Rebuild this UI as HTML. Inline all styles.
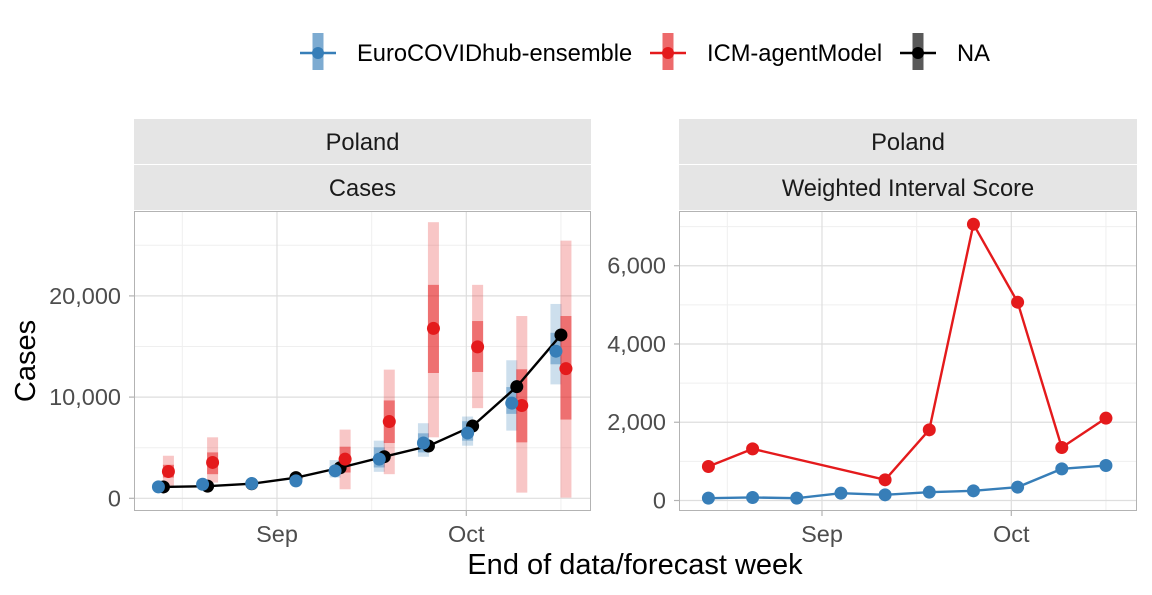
<!DOCTYPE html>
<html><head><meta charset="utf-8">
<style>
html,body{margin:0;padding:0;background:#fff;}
svg{display:block;font-family:"Liberation Sans",sans-serif;}
</style></head>
<body>
<svg id="chart" width="1152" height="595" xmlns="http://www.w3.org/2000/svg"></svg>
<script>
// ---- data ----
const weekDays = [-18, -11, -4, 3, 10, 17, 24, 31, 38, 45]; // days relative to Sep 1
const truthCases = [1120, 1200, 1440, 2040, 3020, 4110, 5170, 7140, 11030, 16140];
const ensMedian = [1126, 1391, 1457, 1722, 2715, 3874, 5464, 6457, 9404, 14536];
const ensLo90 = [900, 1150, 1250, 1400, 2053, 2616, 4106, 5199, 6688, 11257];
const ensHi90 = [1400, 1650, 1700, 2100, 3775, 5695, 7417, 8079, 13641, 19204];
const ensLo50 = [1000, 1300, 1350, 1550, 2400, 3046, 4536, 5695, 8344, 13244];
const ensHi50 = [1250, 1500, 1550, 1900, 3100, 5033, 6423, 7615, 10993, 16356];
const icmWeeks = [0, 1, 4, 5, 6, 7, 8, 9]; // indexes into weekDays
const icmMedian = [2649, 3543, 3874, 7583, 16787, 14966, 9172, 12814];
const icmLo90 = [1060, 1556, 894, 2384, 6026, 8907, 563, 66];
const icmHi90 = [4205, 6026, 6788, 12714, 27283, 21091, 18012, 25462];
const icmLo50 = [2053, 2384, 2549, 5463, 12383, 12483, 5529, 7781];
const icmHi50 = [3311, 4536, 5099, 9668, 21091, 17515, 12748, 18012];
const wisEnsemble = [60, 77, 60, 187, 145, 213, 247, 341, 809, 894];
const wisIcm = [869, 1320, 528, 1806, 7061, 5068, 1354, 2104];
const leftTicks = [0, 10000, 20000];
const leftTickLabels = ["0", "10,000", "20,000"];
const rightTicks = [0, 2000, 4000, 6000];
const rightTickLabels = ["0", "2,000", "4,000", "6,000"];
const xTickDays = [0, 30];
const xTickLabels = ["Sep", "Oct"];

// ---- scaffolding ----
const NS = "http://www.w3.org/2000/svg";
const svg = document.getElementById("chart");
function mk(tag, attrs, parent) {
  const e = document.createElementNS(NS, tag);
  for (const k in attrs) e.setAttribute(k, attrs[k]);
  (parent || svg).appendChild(e);
  return e;
}
const BLUE = "#377eb8", RED = "#e41a1c";
const PY0 = 211, PY1 = 511;
const L = {x0: 134, x1: 591, sep: 277};
const R = {x0: 679, x1: 1137, sep: 822};
const pxDay = 6.31;
const PR = 6.5;
function xL(d) { return L.sep + d * pxDay; }
function xR(d) { return R.sep + d * pxDay; }
function yL(v) { return 498.3 - v * (50.6 / 5000); }
function yR(v) { return 500.5 - v * (39.13 / 1000); }

function panel(P, xf, yf, minorY, majorY, name) {
  const g = mk("g", {});
  
  
  mk("rect", {x: P.x0, y: PY0, width: P.x1 - P.x0, height: PY1 - PY0, fill: "#fff"}, g);
  minorY.forEach(v => mk("line", {x1: P.x0, x2: P.x1, y1: yf(v), y2: yf(v), stroke: "#efefef", "stroke-width": 1}, g));
  [-15, 15, 45].forEach(d => mk("line", {x1: xf(d), x2: xf(d), y1: PY0, y2: PY1, stroke: "#efefef", "stroke-width": 1}, g));
  majorY.forEach(v => mk("line", {x1: P.x0, x2: P.x1, y1: yf(v), y2: yf(v), stroke: "#dedede", "stroke-width": 1.2}, g));
  xTickDays.forEach(d => mk("line", {x1: xf(d), x2: xf(d), y1: PY0, y2: PY1, stroke: "#dedede", "stroke-width": 1.2}, g));
  return g;
}

// ---- left panel ----
const gl = panel(L, xL, yL, [5000, 15000, 25000], leftTicks, "cases-panel");
const BW = 11;
function bar(g, x, lo, hi, color, op, name) {
  const r = mk("rect", {x: x - BW / 2, y: yL(hi), width: BW, height: yL(lo) - yL(hi), fill: color, "fill-opacity": op}, g);
  
  
}
const hasIcm = weekDays.map((_, i) => icmWeeks.indexOf(i) >= 0);
weekDays.forEach((d, i) => {
  const x = xL(d) + (hasIcm[i] ? -5 : 0);
  bar(gl, x, ensLo90[i], ensHi90[i], BLUE, 0.25, "ensemble-interval-90");
  bar(gl, x, ensLo50[i], ensHi50[i], BLUE, 0.45, "ensemble-interval-50");
});
icmWeeks.forEach((wi, j) => {
  const x = xL(weekDays[wi]) + 5;
  bar(gl, x, icmLo90[j], icmHi90[j], RED, 0.25, "icm-interval-90");
  bar(gl, x, icmLo50[j], icmHi50[j], RED, 0.5, "icm-interval-50");
});
const truthPath = mk("polyline", {points: weekDays.map((d, i) => xL(d) + "," + yL(truthCases[i])).join(" "), fill: "none", stroke: "#000", "stroke-width": 2.4}, gl);


weekDays.forEach((d, i) => {
  const c = mk("circle", {cx: xL(d), cy: yL(truthCases[i]), r: PR, fill: "#000"}, gl);
  
  
});
icmWeeks.forEach((wi, j) => {
  const c = mk("circle", {cx: xL(weekDays[wi]) + 5, cy: yL(icmMedian[j]), r: PR, fill: RED}, gl);
  
  
});
weekDays.forEach((d, i) => {
  const c = mk("circle", {cx: xL(d) + (hasIcm[i] ? -5 : 0), cy: yL(ensMedian[i]), r: PR, fill: BLUE}, gl);
  
  
});

// ---- right panel ----
const gr = panel(R, xR, yR, [1000, 3000, 5000, 7000], rightTicks, "wis-panel");
const ensLine = mk("polyline", {points: weekDays.map((d, i) => xR(d) + "," + yR(wisEnsemble[i])).join(" "), fill: "none", stroke: BLUE, "stroke-width": 2.4}, gr);


const icmLine = mk("polyline", {points: icmWeeks.map((wi, j) => xR(weekDays[wi]) + "," + yR(wisIcm[j])).join(" "), fill: "none", stroke: RED, "stroke-width": 2.4}, gr);


weekDays.forEach((d, i) => {
  const c = mk("circle", {cx: xR(d), cy: yR(wisEnsemble[i]), r: PR, fill: BLUE}, gr);
  
  
});
icmWeeks.forEach((wi, j) => {
  const c = mk("circle", {cx: xR(weekDays[wi]), cy: yR(wisIcm[j]), r: PR, fill: RED}, gr);
  
  
});

// ---- borders, strips, axes ----
[L, R].forEach((P, k) => {
  const b = mk("rect", {x: P.x0 + 0.5, y: PY0 + 0.5, width: P.x1 - P.x0 - 1, height: PY1 - PY0 - 1, fill: "none", stroke: "#b3b3b3", "stroke-width": 1});
  
  
  const s1 = mk("rect", {x: P.x0, y: 119, width: P.x1 - P.x0, height: 45, fill: "#e5e5e5"});
  
  
  const s2 = mk("rect", {x: P.x0, y: 165, width: P.x1 - P.x0, height: 45, fill: "#e5e5e5"});
  
  
  const cx = (P.x0 + P.x1) / 2;
  const t1 = mk("text", {x: cx, y: 150, "text-anchor": "middle", "font-size": 23.7, fill: "#1a1a1a"});
  t1.textContent = "Poland";
  
  
  const t2 = mk("text", {x: cx, y: 196, "text-anchor": "middle", "font-size": 23.7, fill: "#1a1a1a"});
  t2.textContent = k === 0 ? "Cases" : "Weighted Interval Score";
  
  
  const xf = k === 0 ? xL : xR;
  xTickDays.forEach((d, i) => {
    mk("line", {x1: xf(d), x2: xf(d), y1: PY1, y2: PY1 + 5, stroke: "#b3b3b3", "stroke-width": 1.2});
    const t = mk("text", {x: xf(d), y: 542, "text-anchor": "middle", "font-size": 23.5, fill: "#4d4d4d"});
    t.textContent = xTickLabels[i];
    
    
  });
});
leftTicks.forEach((v, i) => {
  mk("line", {x1: L.x0 - 5, x2: L.x0, y1: yL(v), y2: yL(v), stroke: "#b3b3b3", "stroke-width": 1.2});
  const t = mk("text", {x: 121, y: yL(v) + 8, "text-anchor": "end", "font-size": 23.5, fill: "#4d4d4d"});
  t.textContent = leftTickLabels[i];
  
  
});
rightTicks.forEach((v, i) => {
  mk("line", {x1: R.x0 - 5, x2: R.x0, y1: yR(v), y2: yR(v), stroke: "#b3b3b3", "stroke-width": 1.2});
  const t = mk("text", {x: 666, y: yR(v) + 8, "text-anchor": "end", "font-size": 23.5, fill: "#4d4d4d"});
  t.textContent = rightTickLabels[i];
  
  
});
const yt = mk("text", {x: 0, y: 0, transform: "translate(35,361) rotate(-90)", "text-anchor": "middle", "font-size": 29, fill: "#000"});
yt.textContent = "Cases";


const xt = mk("text", {x: 635, y: 574, "text-anchor": "middle", "font-size": 29, fill: "#000"});
xt.textContent = "End of data/forecast week";



// ---- legend ----
const legendNames = ["EuroCOVIDhub-ensemble", "ICM-agentModel", "NA"];
const legendColors = [BLUE, RED, "#000"];
const legendX = [318, 668, 918];
legendNames.forEach((n, i) => {
  const g = mk("g", {});
  
  
  const cx = legendX[i];
  mk("rect", {x: cx - 5.5, y: 33, width: 11, height: 37, fill: legendColors[i], "fill-opacity": 0.65}, g);
  mk("line", {x1: cx - 18, x2: cx + 18, y1: 53, y2: 53, stroke: legendColors[i], "stroke-width": 2.4}, g);
  mk("circle", {cx: cx, cy: 53, r: 6, fill: legendColors[i]}, g);
  const t = mk("text", {x: cx + 39, y: 61, "font-size": 23.7, fill: "#000"}, g);
  t.textContent = n;
});
</script>
</body></html>
